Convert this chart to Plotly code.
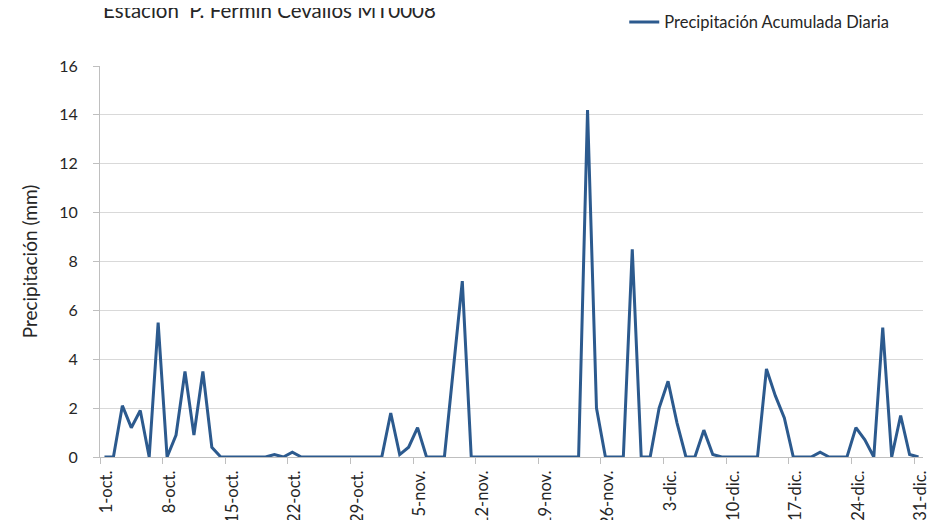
import pandas as pd
import plotly.graph_objects as go

# ---- data ----
start_date = "2013-10-01"
oct_vals = [0, 0, 2.1, 1.2, 1.9, 0, 5.5, 0, 0.9, 3.5, 0.9, 3.5, 0.4, 0, 0, 0, 0, 0, 0, 0.1,
            0, 0.2, 0, 0, 0, 0, 0, 0, 0, 0, 0]
nov_vals = [0, 1.8, 0.1, 0.4, 1.2, 0, 0, 0, 3.6, 7.2, 0, 0, 0, 0, 0, 0, 0, 0, 0, 0,
            0, 0, 0, 14.2, 2.0, 0, 0, 0, 8.5, 0]
dic_vals = [0, 2.0, 3.1, 1.4, 0, 0, 1.1, 0.1, 0, 0, 0, 0, 0, 3.6, 2.5, 1.6, 0, 0, 0, 0.2,
            0, 0, 0, 1.2, 0.7, 0, 5.3, 0, 1.7, 0.1, 0]
precip = oct_vals + nov_vals + dic_vals
dates = pd.date_range(start_date, periods=len(precip), freq="D")

tick_dates = ["2013-10-01", "2013-10-08", "2013-10-15", "2013-10-22", "2013-10-29",
              "2013-11-05", "2013-11-12", "2013-11-19", "2013-11-26",
              "2013-12-03", "2013-12-10", "2013-12-17", "2013-12-24", "2013-12-31"]
tick_labels = ["1-oct.", "8-oct.", "15-oct.", "22-oct.", "29-oct.",
               "5-nov.", "12-nov.", "19-nov.", "26-nov.",
               "3-dic.", "10-dic.", "17-dic.", "24-dic.", "31-dic."]

series_name = "Precipitación Acumulada Diaria"
title_text = "Estación  P. Fermín Cevallos MT0008"
y_title = "Precipitación (mm)"

# tick marks sit on day boundaries (half a day before each labelled date)
tick_pos = [pd.Timestamp(d) - pd.Timedelta(hours=12) for d in tick_dates]
x_range = [pd.Timestamp(start_date) - pd.Timedelta(hours=12),
           dates[-1] + pd.Timedelta(hours=12)]

FONT = "Lato"
TXT = "#262626"
LINE = "#2C5A8E"

fig = go.Figure()
fig.add_trace(go.Scatter(
    x=dates, y=precip, mode="lines", name=series_name,
    line=dict(color=LINE, width=3),
))

fig.update_layout(
    width=935, height=520,
    margin=dict(l=92, r=20, t=58, b=71, autoexpand=False),
    paper_bgcolor="white", plot_bgcolor="white",
    font=dict(family=FONT, color=TXT, size=16),
    title=dict(text=title_text, font=dict(family=FONT, size=20.5, color=TXT),
               xref="container", x=95/935, xanchor="left",
               yref="container", y=1 - 3/520, yanchor="middle"),
    showlegend=True,
    legend=dict(x=0.637, y=1.112, xanchor="left", yanchor="middle",
                font=dict(family=FONT, size=16.5, color=TXT),
                bgcolor="rgba(0,0,0,0)", itemwidth=30),
)

fig.update_xaxes(
    type="date", range=x_range,
    tickmode="array", tickvals=tick_pos, ticktext=tick_labels,
    tickangle=-90, tickfont=dict(family=FONT, size=16.5, color=TXT),
    ticklabelshift=7, ticklabelstandoff=0,
    ticks="outside", ticklen=6, tickcolor="#bfbfbf", tickwidth=1,
    showgrid=False, showline=True, linecolor="#bfbfbf", linewidth=1,
    zeroline=False, automargin=False,
)
fig.update_yaxes(
    range=[0, 16], dtick=2, tick0=0,
    tickfont=dict(family=FONT, size=16, color=TXT),
    ticklabelstandoff=12,
    ticks="outside", ticklen=6, tickcolor="#bfbfbf", tickwidth=1,
    showgrid=True, gridcolor="#d9d9d9", gridwidth=1,
    showline=True, linecolor="#bfbfbf", linewidth=1,
    zeroline=False, automargin=False,
    title=dict(text=y_title, font=dict(family=FONT, size=19, color=TXT), standoff=16),
)

fig.write_html("out.html")
